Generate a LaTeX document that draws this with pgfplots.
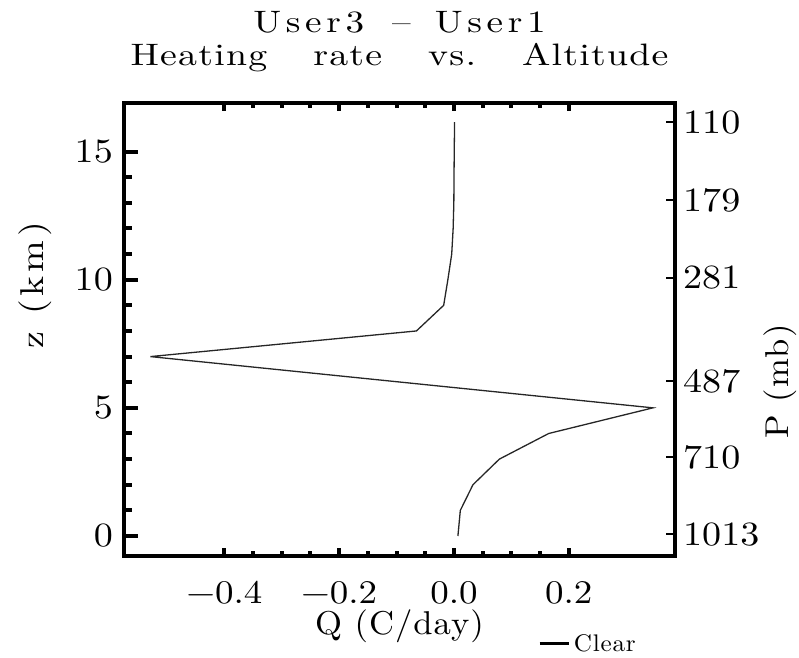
\documentclass[border=0pt]{standalone}
\usepackage{fontspec}
\usepackage{pgfplots}
\pgfplotsset{compat=1.18}
\newfontfamily\ttlfontA{lmroman10-regular.otf}[FakeStretch=1.2, LetterSpace=15]
\newfontfamily\ttlfontB{lmroman10-regular.otf}[FakeStretch=1.22, LetterSpace=4]
\newfontfamily\labfont{lmroman10-regular.otf}[FakeStretch=1.05, LetterSpace=3]
\newfontfamily\ylabfont{lmroman10-regular.otf}[FakeStretch=1.15, LetterSpace=12]
\newfontfamily\plabfont{lmroman10-regular.otf}[FakeStretch=1.05, LetterSpace=4]
\newfontfamily\tickfont{lmroman10-regular.otf}[FakeStretch=1.12]
\newfontfamily\legfont{lmroman10-regular.otf}[FakeStretch=1.05, LetterSpace=3]

\pgfplotstableread{
x y
0.0068 0
0.0110 1
0.0330 2
0.0790 3
0.1650 4
0.3465 5
-0.5290 7
-0.0655 8
-0.0180 9
-0.0107 10
-0.0040 11
-0.0015 12
-0.0003 13
0.0000 14
0.0004 15
0.0010 16.15
}\clear

\begin{document}
\begin{tikzpicture}
\path[use as bounding box] (-124.5pt,-101.5pt) rectangle (674.5pt,555.5pt);

\pgfplotsset{
  base/.style={scale only axis, width=550pt, height=452.5pt,
    at={(0pt,0pt)}, anchor=south west,
    xmin=-0.574, xmax=0.3841, ymin=-0.761, ymax=16.894,
    tick align=inside},
}

% main axis: frame, x ticks, data, legend
\begin{axis}[base,
  axis line style={line width=4pt, line join=miter, black},
  xtick={-0.4,-0.2,0,0.2},
  xticklabels={−0.4,−0.2,0.0,0.2},
  minor x tick num=3,
  xtick pos=both,
  ytick=\empty,
  major tick length=8pt, minor tick length=4.5pt,
  tick style={line width=4pt, black},
  xticklabel style={font=\tickfont\fontsize{33}{38}\selectfont, inner sep=0pt, anchor=north, yshift=-25.5pt},
  legend style={draw=none, fill=none, at={(0.7518,-0.1945)}, anchor=west,
    inner sep=0pt, outer sep=0pt,
    font=\legfont\fontsize{24}{28}\selectfont,
    nodes={inner sep=0pt},
    /tikz/every odd column/.append style={column sep=3.5pt}},
  legend cell align=left,
  legend image code/.code={\draw[line width=3.5pt, black] (0pt,0pt) -- (29pt,0pt);},
]
\addplot[line width=1.3pt, black!85] table[x=x, y=y] {\clear};
\addlegendentry{Clear}
\end{axis}

% left y ticks
\begin{axis}[base,
  axis line style={draw=none},
  xtick=\empty,
  ytick={0,5,10,15},
  yticklabels={0,5,10,15},
  minor y tick num=4,
  ytick pos=left,
  major tick length=13pt, minor tick length=7.5pt,
  tick style={line width=4pt, black},
  yticklabel style={font=\tickfont\fontsize{34}{38}\selectfont, inner sep=0pt, anchor=east, xshift=-11.5pt},
]
\end{axis}

% right pressure ticks
\begin{axis}[base,
  axis line style={draw=none},
  xtick=\empty,
  ytick={0.066,3.07,6.05,10.08,13.11,16.14},
  yticklabels={1013,710,487,281,179,110},
  ytick pos=right, yticklabel pos=right,
  major tick length=9pt,
  tick style={line width=1.8pt, black},
  yticklabel style={font=\tickfont\fontsize{34}{38}\selectfont, inner sep=0pt, anchor=west, xshift=8.5pt},
]
\end{axis}

\node[font=\ttlfontA\fontsize{31}{36}\selectfont, anchor=base, inner sep=0pt] at (275pt,522.7pt) {User3\hspace{28pt}–\hspace{24pt}User1};
\node[font=\ttlfontB\fontsize{31}{36}\selectfont, anchor=base, inner sep=0pt] at (275pt,490pt) {Heating\hspace{46pt}rate\hspace{46pt}vs.\hspace{46pt}Altitude};
\node[font=\labfont\fontsize{33}{38}\selectfont, anchor=base, inner sep=0pt] at (275pt,-78.5pt) {Q (C/day)};
\node[font=\ylabfont\fontsize{33}{38}\selectfont, anchor=base, rotate=90, inner sep=0pt] at (-81pt,270.5pt) {z (km)};
\node[font=\plabfont\fontsize{33}{38}\selectfont, anchor=base, rotate=90, inner sep=0pt] at (663.5pt,174pt) {P (mb)};
\end{tikzpicture}
\end{document}
